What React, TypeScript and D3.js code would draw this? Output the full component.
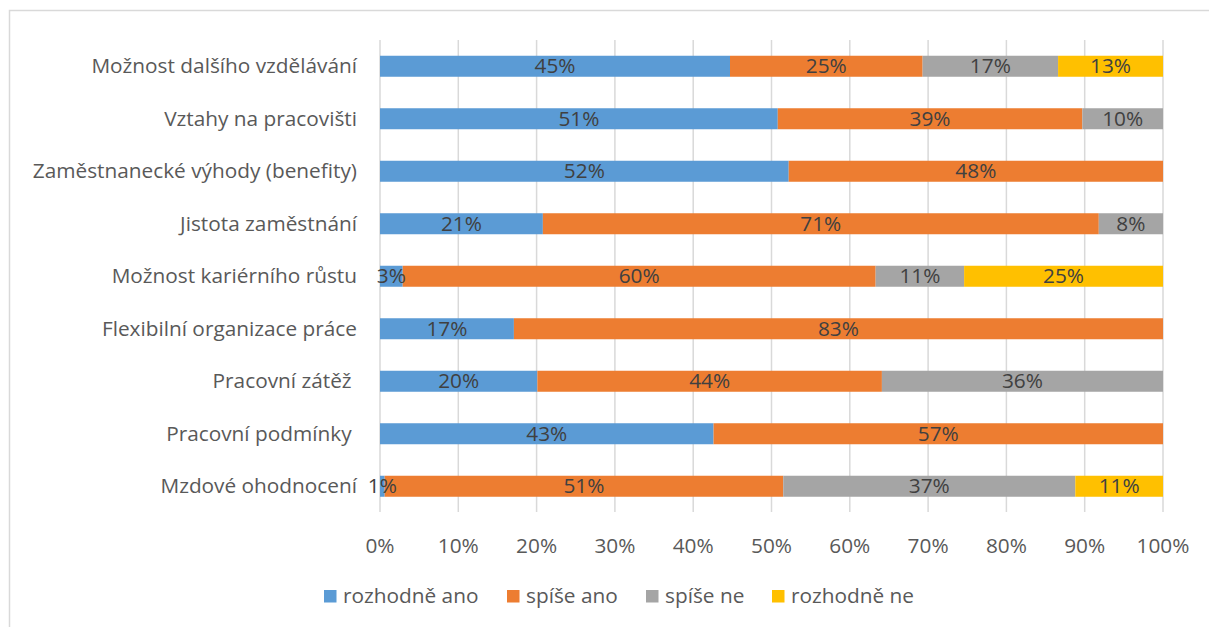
import React from "react";
import * as d3 from "d3";

const categories = [
  "Možnost dalšího vzdělávání",
  "Vztahy na pracovišti",
  "Zaměstnanecké výhody (benefity)",
  "Jistota zaměstnání",
  "Možnost kariérního růstu",
  "Flexibilní organizace práce",
  "Pracovní zátěž ",
  "Pracovní podmínky ",
  "Mzdové ohodnocení",
];

const seriesNames = ["rozhodně ano", "spíše ano", "spíše ne", "rozhodně ne"];
const seriesColors = ["#5B9BD5", "#ED7D31", "#A5A5A5", "#FFC000"];

const rozhodneAno = [44.7, 50.8, 52.2, 20.8, 2.9, 17.1, 20.1, 42.6, 0.6];
const spiseAno = [24.6, 38.9, 47.8, 71.0, 60.4, 82.9, 44.0, 57.4, 50.9];
const spiseNe = [17.3, 10.3, 0, 8.2, 11.3, 0, 35.9, 0, 37.3];
const rozhodneNe = [13.4, 0, 0, 0, 25.4, 0, 0, 0, 11.2];

const tickValues = [0, 10, 20, 30, 40, 50, 60, 70, 80, 90, 100];

const FONT = "'Open Sans', Lato, sans-serif";

export default function App() {
  const seriesData = [rozhodneAno, spiseAno, spiseNe, rozhodneNe];
  const rows = categories.map((c, i) => {
    const r: any = { cat: c };
    seriesNames.forEach((s, j) => (r[s] = seriesData[j][i]));
    return r;
  });
  const stack = d3.stack<any>().keys(seriesNames).offset(d3.stackOffsetExpand);
  const stacked = stack(rows);

  const x = d3.scaleLinear().domain([0, 1]).range([380, 1163]);
  const y = d3
    .scaleBand<string>()
    .domain(categories)
    .range([40, 512.5])
    .paddingInner(0.6)
    .paddingOuter(0.3);

  const legendX = [324, 507, 646, 772];
  const fs = 20.8;

  return (
    <svg
      width={1209}
      height={627}
      style={{ position: "absolute", left: 0, top: 0, background: "#fff" }}
      fontFamily={FONT}
    >
      <rect x={9.5} y={10.5} width={1300} height={700} fill="#fff" stroke="#d9d9d9" strokeWidth={1.5} />
      {tickValues.map((t) => (
        <line
          key={t}
          x1={x(t / 100)}
          x2={x(t / 100)}
          y1={40}
          y2={512}
          stroke="#d9d9d9"
          strokeWidth={1.5}
        />
      ))}
      {stacked.map((s, j) => (
        <g key={s.key} fill={seriesColors[j]}>
          {s.map((d, i) =>
            d[1] - d[0] > 0 ? (
              <rect
                key={i}
                x={x(d[0])}
                y={y(categories[i])}
                width={x(d[1]) - x(d[0])}
                height={y.bandwidth()}
              />
            ) : null
          )}
        </g>
      ))}
      {stacked.map((s, j) => (
        <g key={s.key + "l"} fill="#404040" fontSize={fs} textAnchor="middle">
          {s.map((d, i) =>
            d[1] - d[0] > 0 ? (
              <text
                key={i}
                x={(x(d[0]) + x(d[1])) / 2}
                y={(y(categories[i]) as number) + y.bandwidth() / 2}
                dy="0.34em"
              >
                {Math.round(seriesData[j][i]) + "%"}
              </text>
            ) : null
          )}
        </g>
      ))}
      {categories.map((c) => (
        <text
          key={c}
          x={357}
          y={(y(c) as number) + y.bandwidth() / 2}
          dy="0.34em"
          textAnchor="end"
          fontSize={fs}
          fill="#595959"
          style={{ whiteSpace: "pre" }}
        >
          {c}
        </text>
      ))}
      {tickValues.map((t) => (
        <text
          key={"t" + t}
          x={x(t / 100)}
          y={546}
          dy="0.34em"
          textAnchor="middle"
          fontSize={fs}
          fill="#595959"
        >
          {t + "%"}
        </text>
      ))}
      {seriesNames.map((s, j) => (
        <g key={"lg" + s}>
          <rect x={legendX[j]} y={590} width={12.5} height={12.5} fill={seriesColors[j]} />
          <text x={legendX[j] + 19} y={596} dy="0.34em" fontSize={fs} fill="#595959">
            {s}
          </text>
        </g>
      ))}
    </svg>
  );
}
